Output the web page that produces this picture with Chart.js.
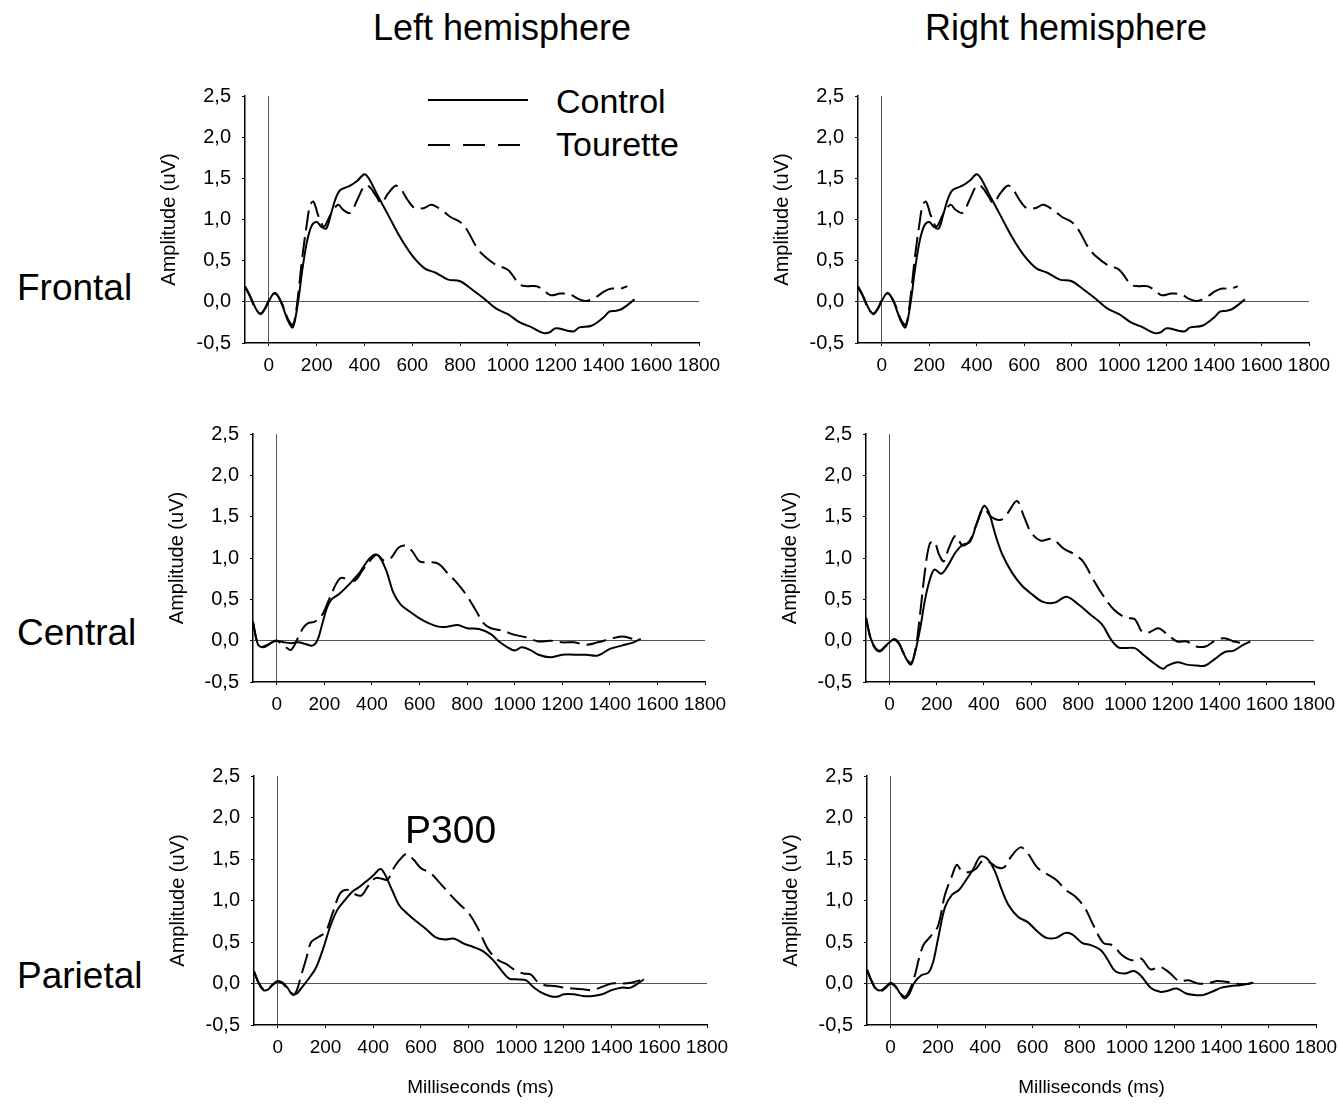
<!DOCTYPE html>
<html>
<head>
<meta charset="utf-8">
<script src="https://cdn.jsdelivr.net/npm/chart.js@4.4.1/dist/chart.umd.min.js"></script>
<style>
  html, body { margin: 0; padding: 0; background: #fff; }
  #wrap { position: relative; width: 1339px; height: 1105px; overflow: hidden; background: #fff;
          font-family: "Liberation Sans", Arial, Helvetica, sans-serif; color: #000; }
  canvas { position: absolute; }
  .lbl { position: absolute; white-space: nowrap; line-height: 1; }
</style>
</head>
<body>
<div id="wrap">
  <div class="lbl" style="font-size:36px; left:502px; top:10px; transform:translateX(-50%);">Left hemisphere</div>
  <div class="lbl" style="font-size:36px; left:1066px; top:10px; transform:translateX(-50%);">Right hemisphere</div>
  <div class="lbl" style="font-size:37px; left:17px; top:269px;">Frontal</div>
  <div class="lbl" style="font-size:37px; left:17px; top:614px;">Central</div>
  <div class="lbl" style="font-size:37px; left:17px; top:957px;">Parietal</div>
  <svg style="position:absolute; left:420px; top:90px;" width="120" height="70">
    <line x1="8" y1="10" x2="108" y2="10" stroke="#000" stroke-width="2"/>
    <line x1="8" y1="55" x2="100" y2="55" stroke="#000" stroke-width="2" stroke-dasharray="22 13"/>
  </svg>
  <div class="lbl" style="font-size:34px; left:556px; top:84px;">Control</div>
  <div class="lbl" style="font-size:34px; left:556px; top:127px;">Tourette</div>

  <canvas id="cFL"></canvas>
  <canvas id="cFR"></canvas>
  <canvas id="cCL"></canvas>
  <canvas id="cCR"></canvas>
  <canvas id="cPL"></canvas>
  <canvas id="cPR"></canvas>

  <div class="lbl" style="font-size:39px; left:405px; top:810px;">P300</div>
</div>
<script>
// ---------- tick labels ----------
const xTickValues = [0, 200, 400, 600, 800, 1000, 1200, 1400, 1600, 1800];
const yTickValues = [-0.5, 0, 0.5, 1.0, 1.5, 2.0, 2.5];
const seriesNames = ['Control', 'Tourette'];

// ---------- Frontal (left and right panels show the same waveforms) ----------
const frontalControlT = [-100,-80,-55,-35,-15,0,25,50,80,100,120,140,160,180,200,220,240,260,280,300,340,370,400,420,450,500,550,600,650,700,750,800,850,900,950,1000,1050,1100,1150,1175,1200,1250,1275,1300,1350,1400,1425,1450,1475,1500,1530];
const frontalControlV = [0.19,0.08,-0.08,-0.15,-0.08,0.01,0.11,0.0,-0.23,-0.31,-0.04,0.39,0.74,0.93,0.97,0.91,0.89,1.07,1.26,1.36,1.41,1.47,1.55,1.49,1.32,1.05,0.78,0.56,0.41,0.35,0.27,0.25,0.15,0.04,-0.08,-0.15,-0.25,-0.31,-0.38,-0.37,-0.32,-0.35,-0.36,-0.31,-0.29,-0.19,-0.12,-0.11,-0.09,-0.04,0.03];
const frontalTouretteT = [-100,-80,-55,-35,-15,0,25,50,80,100,112,125,140,160,172,185,195,205,215,230,260,290,310,340,370,400,420,450,470,500,530,550,580,610,650,680,720,760,800,830,870,900,950,1000,1050,1080,1120,1150,1180,1220,1260,1300,1330,1370,1400,1430,1470,1500];
const frontalTouretteV = [0.18,0.07,-0.09,-0.14,-0.07,0.02,0.1,0.01,-0.21,-0.28,-0.15,0.15,0.55,0.97,1.17,1.22,1.16,1.06,1.0,0.91,1.07,1.18,1.12,1.08,1.24,1.41,1.40,1.28,1.20,1.32,1.41,1.38,1.24,1.14,1.14,1.18,1.12,1.03,0.97,0.87,0.66,0.56,0.45,0.39,0.21,0.19,0.19,0.14,0.08,0.10,0.09,0.03,0.01,0.06,0.12,0.16,0.16,0.19];

// ---------- Central left ----------
const centralLeftControlT = [-100,-80,-60,-40,-20,0,30,60,90,120,150,170,190,210,230,260,290,320,350,380,410,430,460,490,520,560,600,640,680,720,760,800,850,900,930,970,1000,1030,1070,1100,1150,1200,1250,1300,1350,1400,1450,1500,1530];
const centralLeftControlV = [0.23,-0.04,-0.08,-0.06,-0.02,0.0,-0.02,-0.03,-0.02,-0.04,-0.06,0.0,0.19,0.39,0.50,0.56,0.64,0.73,0.83,0.96,1.04,1.02,0.85,0.58,0.44,0.35,0.27,0.21,0.17,0.17,0.19,0.15,0.14,0.08,0.0,-0.08,-0.12,-0.08,-0.12,-0.17,-0.20,-0.17,-0.17,-0.17,-0.18,-0.10,-0.06,-0.02,0.02];
const centralLeftTouretteT = [-100,-80,-60,-40,-20,0,30,60,90,110,130,160,190,220,250,270,300,330,360,390,420,450,480,510,540,570,600,640,680,720,760,800,840,870,900,950,1000,1050,1100,1150,1200,1250,1300,1350,1400,1450,1500];
const centralLeftTouretteV = [0.22,-0.03,-0.07,-0.05,-0.02,0.0,-0.06,-0.11,0.04,0.15,0.21,0.23,0.31,0.50,0.69,0.76,0.74,0.73,0.85,0.96,1.04,0.97,1.0,1.12,1.15,1.08,0.96,0.95,0.93,0.81,0.69,0.54,0.35,0.21,0.15,0.12,0.07,0.04,-0.01,0.0,-0.02,-0.02,-0.05,-0.02,0.02,0.05,0.02];

// ---------- Central right ----------
const centralRightControlT = [-100,-80,-60,-40,-20,0,20,40,60,90,110,130,150,170,190,220,250,280,310,340,370,400,420,450,480,520,560,600,650,700,750,800,850,900,940,970,1000,1040,1080,1120,1160,1180,1220,1260,1300,1340,1380,1420,1460,1500,1530];
const centralRightControlV = [0.28,0.03,-0.09,-0.12,-0.07,-0.02,0.02,-0.03,-0.16,-0.29,-0.12,0.15,0.49,0.73,0.86,0.81,0.92,1.07,1.16,1.19,1.42,1.63,1.56,1.27,1.03,0.82,0.67,0.57,0.47,0.46,0.53,0.44,0.32,0.20,0.01,-0.08,-0.09,-0.09,-0.18,-0.27,-0.34,-0.30,-0.26,-0.29,-0.30,-0.30,-0.22,-0.14,-0.12,-0.05,-0.01];
const centralRightTouretteT = [-100,-80,-60,-40,-20,0,20,40,60,90,110,130,150,170,190,210,230,250,280,310,340,370,400,430,470,500,540,570,600,640,690,740,780,820,860,900,950,1000,1040,1070,1100,1140,1180,1220,1260,1300,1340,1380,1420,1460,1500];
const centralRightTouretteV = [0.27,0.02,-0.1,-0.13,-0.08,-0.03,0.01,-0.04,-0.15,-0.27,-0.1,0.34,0.84,1.17,1.20,1.04,0.96,1.11,1.27,1.15,1.21,1.42,1.60,1.50,1.46,1.54,1.69,1.50,1.31,1.21,1.23,1.11,1.05,0.96,0.76,0.57,0.38,0.28,0.26,0.11,0.10,0.15,0.07,-0.01,-0.01,-0.07,-0.07,0.0,0.03,-0.01,-0.03];

// ---------- Parietal left ----------
const parietalLeftControlT = [-100,-80,-60,-40,-20,0,20,40,60,80,100,130,160,190,220,250,280,310,340,370,400,430,450,480,510,540,580,620,660,700,740,780,820,860,900,940,970,1000,1040,1070,1100,1140,1170,1200,1240,1280,1320,1360,1400,1440,1480,1520,1535];
const parietalLeftControlV = [0.15,0.0,-0.08,-0.07,-0.01,0.03,0.01,-0.05,-0.13,-0.12,-0.05,0.06,0.19,0.42,0.69,0.89,1.0,1.1,1.16,1.23,1.30,1.38,1.31,1.12,0.94,0.85,0.75,0.66,0.56,0.53,0.54,0.48,0.44,0.39,0.29,0.15,0.06,0.05,0.04,-0.04,-0.10,-0.15,-0.16,-0.13,-0.13,-0.15,-0.15,-0.13,-0.08,-0.05,-0.05,0.02,0.05];
const parietalLeftTouretteT = [-100,-80,-60,-40,-20,0,20,40,70,100,120,140,170,200,230,260,290,320,350,380,410,440,460,490,520,540,570,600,640,680,720,760,800,840,880,920,960,1000,1030,1060,1090,1120,1160,1200,1240,1280,1320,1360,1400,1440,1480,1520];
const parietalLeftTouretteV = [0.14,0.01,-0.07,-0.06,-0.01,0.02,0.0,-0.06,-0.13,0.12,0.31,0.50,0.56,0.62,0.85,1.08,1.13,1.08,1.06,1.18,1.27,1.26,1.25,1.41,1.52,1.56,1.49,1.39,1.33,1.21,1.08,0.96,0.85,0.66,0.42,0.29,0.23,0.15,0.12,0.11,0.02,-0.02,-0.03,-0.05,-0.06,-0.07,-0.08,-0.04,0.0,0.0,0.01,0.04];

// ---------- Parietal right ----------
const parietalRightControlT = [-100,-80,-60,-40,-20,0,20,40,60,80,100,130,160,180,200,230,260,290,320,350,380,410,440,470,500,540,580,620,660,700,740,770,810,850,890,920,950,990,1030,1060,1100,1140,1170,1210,1250,1290,1320,1360,1400,1440,1480,1520,1535];
const parietalRightControlV = [0.17,0.03,-0.07,-0.08,-0.04,0.01,-0.03,-0.12,-0.18,-0.12,0.01,0.10,0.13,0.26,0.53,0.92,1.07,1.13,1.25,1.38,1.53,1.50,1.36,1.13,0.94,0.80,0.74,0.63,0.55,0.55,0.61,0.59,0.49,0.46,0.40,0.28,0.15,0.12,0.15,0.09,-0.05,-0.10,-0.09,-0.06,-0.12,-0.14,-0.14,-0.10,-0.05,-0.03,-0.02,0.0,0.01];
const parietalRightTouretteT = [-100,-80,-60,-40,-20,0,20,40,60,80,100,120,140,170,200,230,260,280,300,330,360,390,420,450,480,510,550,580,620,660,700,740,780,820,860,900,940,980,1020,1060,1100,1140,1180,1220,1260,1300,1340,1380,1420,1460,1500,1530];
const parietalRightTouretteV = [0.16,0.02,-0.08,-0.09,-0.05,0.0,-0.04,-0.11,-0.16,-0.08,0.07,0.30,0.47,0.57,0.69,1.07,1.30,1.43,1.36,1.34,1.38,1.48,1.46,1.40,1.40,1.53,1.64,1.57,1.40,1.32,1.25,1.13,1.05,0.92,0.69,0.49,0.46,0.34,0.28,0.30,0.17,0.20,0.13,0.03,0.04,0.0,0.0,0.03,0.02,0.0,-0.01,0.01];

// ---------- helpers ----------
const FONT_FAMILY = '"Liberation Sans", Arial, Helvetica, sans-serif';
function zip(t, v) { return t.map((x, i) => ({ x: x, y: v[i] })); }

function makePanel(id, area, ctrlT, ctrlV, tourT, tourV, showXTitle) {
  const yW = 92, padTop = 14, padRight = 36, xH = showXTitle ? 78 : 44;
  const canvas = document.getElementById(id);
  const w = area.right - area.left + yW + padRight;
  const h = area.bottom - area.top + padTop + xH;
  canvas.width = w; canvas.height = h;
  canvas.style.width = w + 'px'; canvas.style.height = h + 'px';
  canvas.style.left = (area.left - yW) + 'px';
  canvas.style.top = (area.top - padTop) + 'px';
  const zeroGrid = (c) => (c.tick && c.tick.value === 0) ? '#555' : 'rgba(0,0,0,0)';
  return new Chart(canvas, {
    type: 'line',
    data: {
      datasets: [
        { label: seriesNames[0], data: zip(ctrlT, ctrlV), borderColor: '#000', borderWidth: 2,
          pointRadius: 0, tension: 0.35, fill: false },
        { label: seriesNames[1], data: zip(tourT, tourV), borderColor: '#000', borderWidth: 2,
          borderDash: [20, 7], pointRadius: 0, tension: 0.35, fill: false }
      ]
    },
    options: {
      responsive: false, animation: false, devicePixelRatio: 1,
      layout: { padding: { top: padTop, right: padRight, left: 0, bottom: 0 } },
      plugins: { legend: { display: false }, tooltip: { enabled: false } },
      scales: {
        x: {
          type: 'linear', min: -100, max: 1800,
          afterBuildTicks: (s) => { s.ticks = xTickValues.map(v => ({ value: v })); },
          afterFit: (s) => { s.height = xH; },
          ticks: { font: { family: FONT_FAMILY, size: 19 }, color: '#000', padding: 8,
                   autoSkip: false, maxRotation: 0, callback: (v) => String(v) },
          grid: { color: zeroGrid, lineWidth: 1, tickColor: '#000', tickLength: 3 },
          border: { color: '#000', width: 1.5 },
          title: { display: showXTitle, text: 'Milliseconds (ms)', color: '#000',
                   font: { family: FONT_FAMILY, size: 19 }, padding: { top: 0, bottom: 4 } }
        },
        y: {
          min: -0.5, max: 2.5,
          afterBuildTicks: (s) => { s.ticks = yTickValues.map(v => ({ value: v })); },
          afterFit: (s) => { s.width = yW; },
          ticks: { font: { family: FONT_FAMILY, size: 20 }, color: '#000', padding: 11,
                   callback: (v) => Number(v).toFixed(1).replace('.', ',') },
          grid: { color: zeroGrid, lineWidth: 1, tickColor: '#000', tickLength: 3 },
          border: { color: '#000', width: 1.5 },
          title: { display: true, text: 'Amplitude (uV)', color: '#000',
                   font: { family: FONT_FAMILY, size: 20 }, padding: { top: 4, bottom: 0 } }
        }
      }
    }
  });
}

makePanel('cFL', { left: 245, right: 699, top: 87, bottom: 343 }, frontalControlT, frontalControlV, frontalTouretteT, frontalTouretteV, false);
makePanel('cFR', { left: 858, right: 1309, top: 87, bottom: 343 }, frontalControlT, frontalControlV, frontalTouretteT, frontalTouretteV, false);
makePanel('cCL', { left: 253, right: 705, top: 425, bottom: 682 }, centralLeftControlT, centralLeftControlV, centralLeftTouretteT, centralLeftTouretteV, false);
makePanel('cCR', { left: 866, right: 1314, top: 425, bottom: 682 }, centralRightControlT, centralRightControlV, centralRightTouretteT, centralRightTouretteV, false);
makePanel('cPL', { left: 254, right: 707, top: 767, bottom: 1025 }, parietalLeftControlT, parietalLeftControlV, parietalLeftTouretteT, parietalLeftTouretteV, true);
makePanel('cPR', { left: 867, right: 1316, top: 767, bottom: 1025 }, parietalRightControlT, parietalRightControlV, parietalRightTouretteT, parietalRightTouretteV, true);
</script>
</body>
</html>
